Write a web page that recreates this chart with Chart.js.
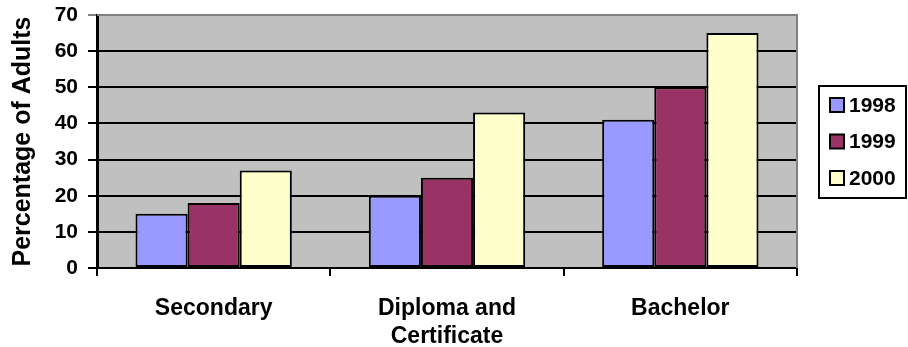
<!DOCTYPE html>
<html>
<head>
<meta charset="utf-8">
<script src="https://cdn.jsdelivr.net/npm/chart.js@4"></script>
<style>
  html, body { margin: 0; padding: 0; background: #fff; }
  #wrap { width: 908px; height: 347px; }
</style>
</head>
<body>
<div id="wrap"><canvas id="chart"></canvas></div>
<script>
const categories = ['Secondary', ['Diploma and', 'Certificate'], 'Bachelor'];
const years = ['1998', '1999', '2000'];
const values1998 = [15, 20, 41];
const values1999 = [18, 25, 50];
const values2000 = [27, 43, 65];
const yTicks = [0, 10, 20, 30, 40, 50, 60, 70];

const colors = ['#9999ff', '#993366', '#ffffcc'];
const FONT = '"Liberation Sans", Arial, sans-serif';

// gray plot background and frame on top/right
const plotFrame = {
    id: 'plotFrame',
    beforeDraw(chart) {
        const { ctx, chartArea: a } = chart;
        ctx.save();
        ctx.fillStyle = '#c0c0c0';
        ctx.fillRect(a.left, a.top, a.right - a.left, a.bottom - a.top);
        ctx.restore();
    },
    afterDraw(chart) {
        const { ctx, chartArea: a } = chart;
        ctx.save();
        ctx.strokeStyle = '#808080';
        ctx.lineWidth = 2;
        ctx.beginPath();
        ctx.moveTo(a.left, a.top);
        ctx.lineTo(a.right, a.top);
        ctx.lineTo(a.right, a.bottom);
        ctx.stroke();
        ctx.restore();
    }
};

// boxed legend at the right, built from the datasets
const boxLegend = {
    id: 'boxLegend',
    afterDraw(chart) {
        const ctx = chart.ctx;
        const x = 819, y = 86, w = 87, h = 112;
        ctx.save();
        ctx.fillStyle = '#fff';
        ctx.fillRect(x, y, w, h);
        ctx.strokeStyle = '#000';
        ctx.lineWidth = 2;
        ctx.strokeRect(x, y, w, h);
        ctx.font = 'bold 21px ' + FONT;
        ctx.textBaseline = 'middle';
        chart.data.datasets.forEach((ds, i) => {
            const cy = 105 + i * 36.5;
            ctx.fillStyle = ds.backgroundColor;
            ctx.fillRect(830, cy - 7, 14, 14);
            ctx.strokeStyle = '#000';
            ctx.lineWidth = 2;
            ctx.strokeRect(830, cy - 7, 14, 14);
            ctx.fillStyle = '#000';
            ctx.fillText(ds.label, 849, cy + 1);
        });
        ctx.restore();
    }
};

const datasets = [values1998, values1999, values2000].map((vals, i) => ({
    label: years[i],
    data: vals,
    backgroundColor: colors[i],
    borderColor: '#000',
    borderWidth: 2,
    borderSkipped: false,
    barPercentage: 1,
    categoryPercentage: 0.67
}));

new Chart(document.getElementById('chart'), {
    type: 'bar',
    data: { labels: categories, datasets },
    options: {
        responsive: true,
        maintainAspectRatio: false,
        animation: false,
        layout: { padding: { left: 0, top: 15, right: 111, bottom: 0 } },
        plugins: {
            legend: { display: false },
            tooltip: { enabled: false }
        },
        scales: {
            x: {
                afterFit: s => { s.height = 79; s.paddingLeft = 0; s.paddingRight = 0; },
                grid: { drawOnChartArea: false, drawTicks: true, tickLength: 8, color: '#000', lineWidth: 2 },
                border: { color: '#000', width: 2 },
                ticks: {
                    color: '#000',
                    padding: 18,
                    maxRotation: 0,
                    font: { family: FONT, size: 23, weight: 'bold', lineHeight: 1.25 }
                }
            },
            y: {
                min: 0,
                max: 70,
                afterFit: s => { s.width = 97; s.paddingTop = 0; s.paddingBottom = 0; },
                afterBuildTicks: s => { s.ticks = yTicks.map(v => ({ value: v })); },
                grid: {
                    color: c => (c.tick && c.tick.value === 70) ? '#808080' : '#000',
                    lineWidth: 2,
                    tickLength: 9
                },
                border: { color: '#000', width: 3 },
                ticks: {
                    color: '#000',
                    padding: 10,
                    font: { family: FONT, size: 21, weight: 'bold' }
                },
                title: {
                    display: true,
                    text: 'Percentage of Adults',
                    color: '#000',
                    padding: { top: 8, bottom: 0 },
                    font: { family: FONT, size: 25, weight: 'bold' }
                }
            }
        }
    },
    plugins: [plotFrame, boxLegend]
});
</script>
</body>
</html>
